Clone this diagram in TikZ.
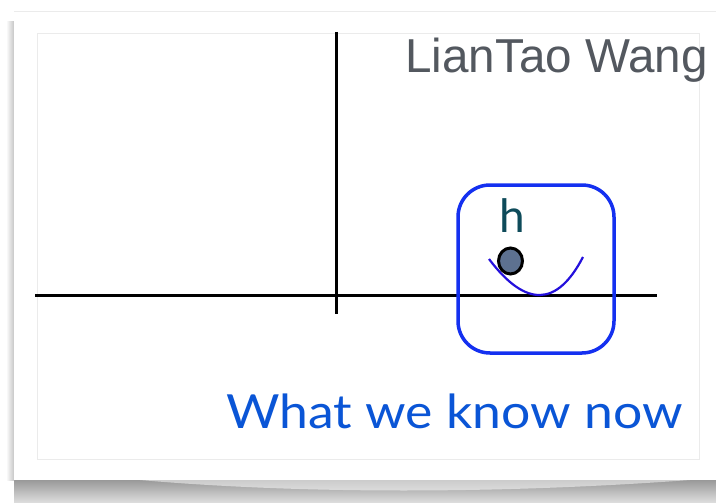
\documentclass[tikz,border=0pt]{standalone}
\usepackage{fontspec}
\setmainfont{Liberation Sans}
\newfontfamily\gillfont{Lato}
\definecolor{namegray}{HTML}{53585F}
\definecolor{hteal}{HTML}{0E4B5A}
\definecolor{textblue}{HTML}{0A55D6}
\definecolor{boxblue}{HTML}{1430F0}
\definecolor{curveblue}{HTML}{2410DC}
\definecolor{ballfill}{HTML}{5D7190}
\definecolor{framegray}{HTML}{EBEBEB}
\tikzset{
  axisline/.style={line width=3pt, black},
  regionbox/.style={draw=boxblue, line width=3.5pt, rounded corners=32pt},
  potential/.style={draw=curveblue, line width=2.2pt},
  ballstyle/.style={ellipse, draw=black, line width=3pt, fill=ballfill, minimum width=24pt, minimum height=26pt, inner sep=0pt},
}
\usetikzlibrary{shapes.geometric}
\begin{document}
\begin{tikzpicture}[x=1pt,y=-1pt]
\useasboundingbox (0,0) rectangle (716,503);
\fill[white] (0,0) rectangle (716,503);
% shadow under slide
\shade[top color=gray!80, bottom color=gray!25] (14,480) rectangle (716,503);
\fill[white, opacity=0.5] (140,480) .. controls (300,494) and (500,494) .. (690,480) -- cycle;
% left edge shadow
\shade[left color=white, right color=gray!45] (6,22) rectangle (14,480);
% slide
\fill[white] (14,11) rectangle (716,480);
\draw[framegray, line width=0.8pt] (14,11) -- (716,11);
% inner frame
\draw[framegray, line width=1pt] (37,34) rectangle (699,459);
% axes
\coordinate (xl) at (35,295);
\coordinate (xr) at (657,295);
\coordinate (yt) at (336,32);
\coordinate (yb) at (336,314);
\draw[axisline] (xl) -- (xr);
\draw[axisline] (yt) -- (yb);
% region box
\node[regionbox, minimum width=156pt, minimum height=168pt, inner sep=0pt] (box) at (536,269) {};
% potential curve
\coordinate (pl) at (489,259);
\coordinate (pr) at (583,257);
\draw[potential] (pl) .. controls (525.7,307.7) and (557,307) .. (pr);
% ball
\node[ballstyle] (ball) at (510.5,261) {};
% labels
\node[anchor=base west, inner sep=0pt, text=hteal, font=\gillfont\fontsize{46}{46}\selectfont] (h) at (499,232) {h};
\node[anchor=base west, inner sep=0pt, text=namegray, font=\fontsize{47.6}{47.6}\selectfont] (name) at (405,73) {LianTao Wang};
\node[anchor=base west, inner sep=0pt, text=textblue, xscale=1.1, font=\gillfont\fontsize{47}{47}\selectfont] (know) at (226,428) {What we know now};
\end{tikzpicture}
\end{document}
